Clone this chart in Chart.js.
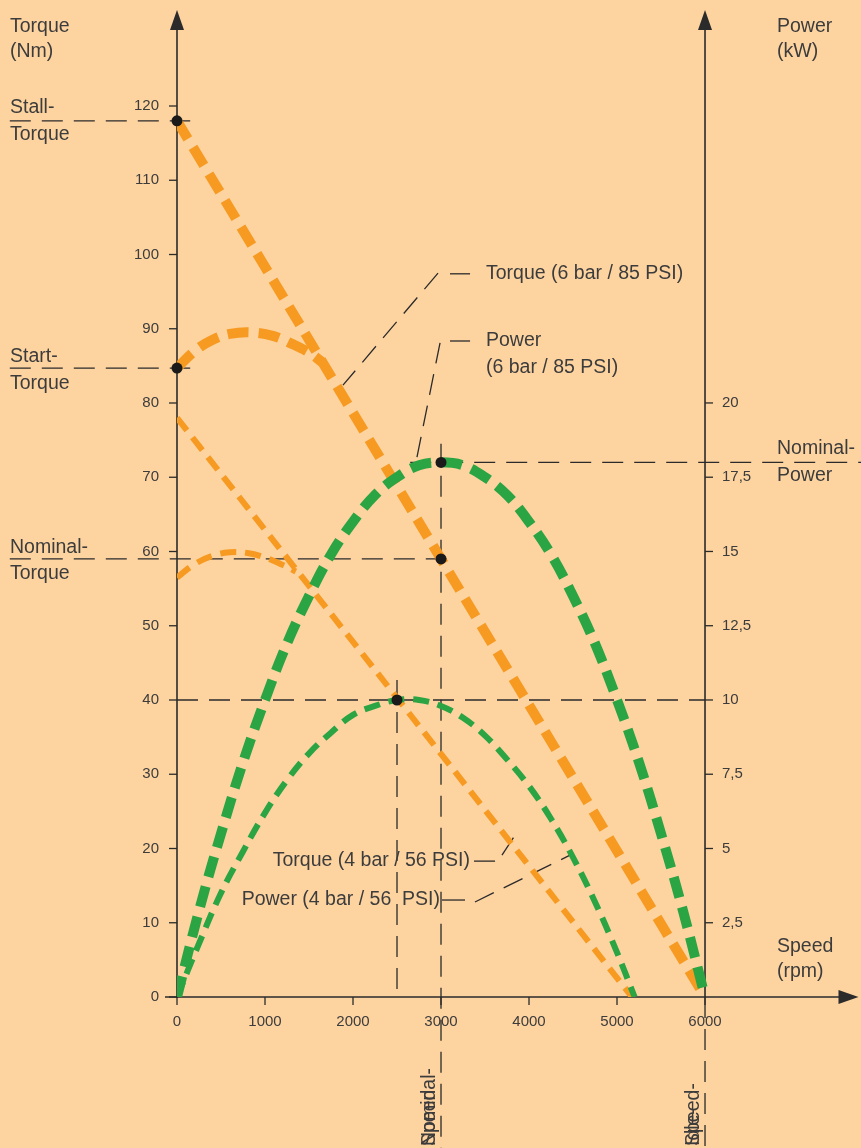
<!DOCTYPE html>
<html>
<head>
<meta charset="utf-8">
<script src="https://cdn.jsdelivr.net/npm/chart.js@4.4.1/dist/chart.umd.min.js"></script>
<style>
  html, body { margin: 0; padding: 0; background: #fdd3a0; }
  canvas { display: block; }
</style>
</head>
<body>
<canvas id="chart" width="861" height="1148" style="width:861px;height:1148px"></canvas>
<script>
// speed axis (rpm) and tick labels
const speedTicks = [0, 1000, 2000, 3000, 4000, 5000, 6000]
const torqueTicks = [0, 10, 20, 30, 40, 50, 60, 70, 80, 90, 100, 110, 120]
const powerTicks = [2.5, 5, 7.5, 10, 12.5, 15, 17.5, 20]
const powerTickLabels = ['2,5', '5', '7,5', '10', '12,5', '15', '17,5', '20']

// torque, 6 bar / 85 PSI (straight line) and start-torque hump
const torque6Rpm = [0, 6000]
const torque6Nm = [118, 0]
const start6Rpm = [0, 200, 400, 600, 850, 1100, 1300, 1500, 1650]
const start6Nm = [84.7, 87.0, 88.5, 89.3, 89.5, 89.0, 88.0, 86.8, 85.5]

// torque, 4 bar / 56 PSI
const torque4Rpm = [0, 5170]
const torque4Nm = [78, 0]
const start4Rpm = [0, 200, 400, 600, 800, 1000, 1200, 1350]
const start4Nm = [56.5, 58.3, 59.4, 59.9, 59.8, 59.2, 58.2, 57.3]

// power, 6 bar / 85 PSI
const power6Rpm = [0, 250, 500, 750, 1000, 1250, 1500, 1750, 2000, 2250, 2500, 2750, 3000,
  3250, 3500, 3750, 4000, 4250, 4500, 4750, 5000, 5250, 5500, 5750, 6000]
const power6Kw = [0, 2.9, 5.5, 7.9, 10, 11.9, 13.5, 14.9, 16, 16.9, 17.5, 17.9, 18,
  17.9, 17.5, 16.9, 16, 14.9, 13.5, 11.9, 10, 7.9, 5.5, 2.9, 0]

// power, 4 bar / 56 PSI
const power4Rpm = [0, 250, 500, 750, 1000, 1250, 1500, 1750, 2000, 2250, 2500, 2750, 3000,
  3250, 3500, 3750, 4000, 4250, 4500, 4750, 5000, 5200]
const power4Kw = [0, 1.8, 3.5, 4.9, 6.2, 7.3, 8.2, 8.9, 9.5, 9.8, 10, 10, 9.8,
  9.4, 8.8, 8.0, 7.1, 6.0, 4.7, 3.2, 1.5, 0]

// marked operating points (rpm, Nm)
const markRpm = [0, 0, 3000, 2500, 3000]
const markNm = [118, 84.7, 59, 40, 72]

const BG = '#fdd3a0'
const INK = '#2b2b2b'
const TEXT = '#3c3c3c'
const ORANGE = '#f79a22'
const GREEN = '#2ba443'
const FONT = '"Liberation Sans", Arial, sans-serif'

const pts = (xs, ys) => xs.map((v, i) => ({x: v, y: ys[i]}))

// guide lines in value coordinates [x1, y1, x2, y2, axis]
const guides = [
  [-1900, 118, 150, 118, 'y'],
  [-1900, 84.7, 150, 84.7, 'y'],
  [-1900, 59, 3160, 59, 'y'],
  [0, 40, 6000, 40, 'y'],
  [2650, 18, 7780, 18, 'yP'],
  [3000, 74.5, 3000, -21, 'y'],
  [2500, 42.7, 2500, 0, 'y'],
  [6000, 0, 6000, -21, 'y'],
  [2966, 97.5, 1886, 82.4, 'y'],
  [2989, 88.1, 2727, 72.7, 'y'],
  [3693, 19.1, 3841, 21.8, 'y'],
  [3386, 12.8, 4466, 19.1, 'y'],
]
// short solid leader strokes next to the labels
const leaders = [
  [3102, 97.4, 3330, 97.4],
  [3102, 88.35, 3330, 88.35],
  [3375, 18.3, 3614, 18.3],
  [3011, 13.06, 3273, 13.06],
]

const labels = [
  ['Torque', 10, 27, 'left'], ['(Nm)', 10, 52, 'left'],
  ['Power', 777, 27, 'left'], ['(kW)', 777, 52, 'left'],
  ['Stall-', 10, 108, 'left'], ['Torque', 10, 135, 'left'],
  ['Start-', 10, 357, 'left'], ['Torque', 10, 384, 'left'],
  ['Nominal-', 10, 548, 'left'], ['Torque', 10, 574, 'left'],
  ['Nominal-', 777, 449, 'left'], ['Power', 777, 476, 'left'],
  ['Speed', 777, 947, 'left'], ['(rpm)', 777, 972, 'left'],
  ['Torque (6 bar / 85 PSI)', 486, 274, 'left'],
  ['Power', 486, 341, 'left'], ['(6 bar / 85 PSI)', 486, 368, 'left'],
  ['Torque (4 bar / 56 PSI)', 470, 861, 'right'],
  ['Power (4 bar / 56  PSI)', 440, 900, 'right'],
]

const decor = {
  id: 'decor',
  beforeDatasetsDraw(chart) {
    const {ctx, scales} = chart
    const x = scales.x, y = scales.y
    ctx.save()

    // dashed guides
    ctx.strokeStyle = INK
    ctx.lineWidth = 1.3
    ctx.setLineDash([21, 11])
    guides.forEach(([x1, y1, x2, y2, ax]) => {
      const s = scales[ax]
      ctx.beginPath()
      ctx.moveTo(x.getPixelForValue(x1), s.getPixelForValue(y1))
      ctx.lineTo(x.getPixelForValue(x2), s.getPixelForValue(y2))
      ctx.stroke()
    })
    ctx.setLineDash([])
    leaders.forEach(([x1, y1, x2, y2]) => {
      ctx.beginPath()
      ctx.moveTo(x.getPixelForValue(x1), y.getPixelForValue(y1))
      ctx.lineTo(x.getPixelForValue(x2), y.getPixelForValue(y2))
      ctx.stroke()
    })

    // axes
    const x0 = x.getPixelForValue(0), x6 = x.getPixelForValue(6000)
    const yb = y.getPixelForValue(0), top = chart.chartArea.top, right = chart.chartArea.right + 3
    ctx.lineWidth = 1.6
    ctx.strokeStyle = INK
    ctx.beginPath()
    ctx.moveTo(x0, yb + 1); ctx.lineTo(x0, top + 12)
    ctx.moveTo(x6, yb); ctx.lineTo(x6, top + 12)
    ctx.moveTo(x0 - 12, yb); ctx.lineTo(right - 12, yb)
    ctx.stroke()
    ctx.fillStyle = INK
    const arrow = (a, b, c) => { ctx.beginPath(); ctx.moveTo(...a); ctx.lineTo(...b); ctx.lineTo(...c); ctx.closePath(); ctx.fill() }
    arrow([x0, top], [x0 - 7, top + 20], [x0 + 7, top + 20])
    arrow([x6, top], [x6 - 7, top + 20], [x6 + 7, top + 20])
    arrow([right, yb], [right - 20, yb - 7], [right - 20, yb + 7])

    // ticks + labels
    ctx.lineWidth = 1.3
    ctx.font = '15px ' + FONT
    ctx.fillStyle = TEXT
    ctx.textBaseline = 'middle'
    ctx.textAlign = 'right'
    torqueTicks.forEach(v => {
      const p = y.getPixelForValue(v)
      ctx.beginPath(); ctx.moveTo(x0 - 8, p); ctx.lineTo(x0, p); ctx.stroke()
      ctx.fillText(String(v), x0 - 18, p)
    })
    ctx.textAlign = 'left'
    powerTicks.forEach((v, i) => {
      const p = scales.yP.getPixelForValue(v)
      ctx.beginPath(); ctx.moveTo(x6, p); ctx.lineTo(x6 + 8, p); ctx.stroke()
      ctx.fillText(powerTickLabels[i], x6 + 17, p)
    })
    ctx.textAlign = 'center'
    speedTicks.forEach(v => {
      const p = x.getPixelForValue(v)
      ctx.beginPath(); ctx.moveTo(p, yb); ctx.lineTo(p, yb + 8); ctx.stroke()
      ctx.fillText(String(v), p, yb + 25)
    })

    // text labels
    ctx.font = '19.5px ' + FONT
    labels.forEach(([t, lx, ly, al]) => {
      ctx.textAlign = al
      ctx.fillText(t, lx, ly)
    })

    // rotated labels below the speed axis (overprinted as in the original)
    const vert = (t, px) => {
      ctx.save()
      ctx.translate(px, 1146)
      ctx.rotate(-Math.PI / 2)
      ctx.textAlign = 'left'
      ctx.textBaseline = 'alphabetic'
      ctx.fillText(t, 0, 0)
      ctx.restore()
    }
    const p3 = x.getPixelForValue(3000)
    vert('Nominal-', p3 - 6); vert('Speed', p3 - 6)
    vert('Idle-', x6 - 6); vert('Speed-', x6 - 6)

    ctx.restore()
  }
}

const thick = {borderWidth: 10, borderDash: [21, 10], pointRadius: 0, fill: false, borderCapStyle: 'butt'}
const thin = {borderWidth: 6, borderDash: [16, 9], pointRadius: 0, fill: false, borderCapStyle: 'butt'}

new Chart(document.getElementById('chart'), {
  type: 'line',
  data: {
    datasets: [
      {label: 'points', data: pts(markRpm, markNm), yAxisID: 'y', showLine: false,
        pointRadius: 5.5, pointBackgroundColor: '#1a1a1a', pointBorderWidth: 0, clip: false},
      {label: 'Power (6 bar / 85 PSI)', data: pts(power6Rpm, power6Kw), yAxisID: 'yP',
        borderColor: GREEN, tension: 0.4, ...thick},
      {label: 'Power (4 bar / 56 PSI)', data: pts(power4Rpm, power4Kw), yAxisID: 'yP',
        borderColor: GREEN, tension: 0.4, ...thin},
      {label: 'Torque (6 bar / 85 PSI)', data: pts(torque6Rpm, torque6Nm), yAxisID: 'y',
        borderColor: ORANGE, tension: 0, ...thick},
      {label: 'Start torque 6 bar', data: pts(start6Rpm, start6Nm), yAxisID: 'y',
        borderColor: ORANGE, tension: 0.4, ...thick},
      {label: 'Torque (4 bar / 56 PSI)', data: pts(torque4Rpm, torque4Nm), yAxisID: 'y',
        borderColor: ORANGE, tension: 0, ...thin},
      {label: 'Start torque 4 bar', data: pts(start4Rpm, start4Nm), yAxisID: 'y',
        borderColor: ORANGE, tension: 0.4, ...thin},
    ]
  },
  options: {
    responsive: false,
    animation: false,
    events: [],
    layout: {padding: {left: 177, right: 3, top: 10, bottom: 151}},
    plugins: {legend: {display: false}, tooltip: {enabled: false}},
    scales: {
      x: {type: 'linear', min: 0, max: 7710, display: false},
      y: {type: 'linear', min: 0, max: 132.93, display: false},
      yP: {type: 'linear', min: 0, max: 33.23, display: false},
    }
  },
  plugins: [decor]
})
</script>
</body>
</html>
